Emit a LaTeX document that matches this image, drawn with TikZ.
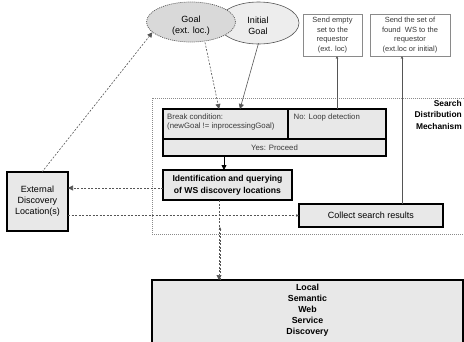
\documentclass[tikz,border=0pt]{standalone}
\usepackage{fontspec}
\setmainfont{Liberation Sans}
\usetikzlibrary{arrows.meta,shapes.geometric}
\definecolor{boxfill}{HTML}{E8E8E8}
\definecolor{goalfill}{HTML}{D9D9D9}
\definecolor{initfill}{HTML}{EDEDED}
\definecolor{linegray}{HTML}{555555}
\definecolor{framegray}{HTML}{8A8A8A}
\definecolor{txtgray}{HTML}{3A3A3A}
\begin{document}
\begin{tikzpicture}[x=1pt,y=-1pt,
  mainbox/.style={draw=black,line width=1.3pt,fill=boxfill,inner sep=0pt,outer sep=0pt},
  sendbox/.style={draw=framegray,line width=0.7pt,fill=white,inner sep=0pt,outer sep=0pt,
    align=center,text=txtgray,font=\fontsize{7.5}{9.7}\selectfont},
  smalltxt/.style={inner sep=0pt,text=txtgray,font=\fontsize{7.8}{9}\selectfont},
  boldtxt/.style={inner sep=0pt,align=center,font=\fontsize{8.6}{12}\selectfont\bfseries},
  regtxt/.style={inner sep=0pt,align=center,font=\fontsize{9}{11}\selectfont},
  dconn/.style={draw=linegray,line width=0.6pt,dash pattern=on 2pt off 1.5pt},
  sconn/.style={draw=linegray,line width=0.6pt},
  bigtip/.style={-{Triangle[length=5pt,width=5pt]}},
  smalltip/.style={-{Stealth[length=3pt,width=2.6pt]}}
]
\useasboundingbox (0,0) rectangle (464,341);

% frame of the search distribution mechanism
\draw[draw=framegray,line width=0.6pt,dash pattern=on 1pt off 1pt] (152,98) rectangle (467,234);
\node[boldtxt,align=right,anchor=north east,font=\fontsize{8.4}{11.5}\selectfont\bfseries] (sdm) at (462,100) {Search\\Distribution\\Mechanism};

% goals
\node[ellipse,draw=linegray,line width=0.6pt,fill=initfill,minimum width=81pt,minimum height=42pt,inner sep=0pt] (initial) at (258.5,23) {};
\node[regtxt] (initialtxt) at (258,26) {Initial\\Goal};
\node[ellipse,draw=linegray,line width=0.7pt,dash pattern=on 1pt off 1pt,fill=goalfill,minimum width=89pt,minimum height=40pt,inner sep=0pt] (goal) at (191,22) {};
\node[regtxt] (goaltxt) at (191,26) {Goal\\(ext. loc.)};

% send boxes
\node[sendbox,minimum width=59pt,minimum height=42pt] (send1) at (332.5,35) {Send empty\\set to the\\requestor\\(ext. loc)};
\node[sendbox,minimum width=80pt,minimum height=42pt] (send2) at (410,35) {Send the set of\\found\ \ WS to the\\requestor\\(ext.loc or initial)};

% break condition box
\node[mainbox,minimum width=223pt,minimum height=47pt] (brk) at (274.5,132.5) {};
\draw[black,line width=1.3pt] ([yshift=-30pt]brk.north west) -- ([yshift=-30pt]brk.north east);
\draw[black,line width=1.3pt] ([xshift=125pt]brk.north west) -- ([xshift=125pt,yshift=-30pt]brk.north west);
\node[smalltxt,anchor=north west,align=left,font=\fontsize{7.8}{9.5}\selectfont] (brktxt) at (167,113.5) {Break condition:\\(newGoal != inprocessingGoal)};
\node[smalltxt,anchor=north west] (loop) at (293.5,113.5) {No: Loop detection};
\node[smalltxt] (yes) at (274.5,147.5) {Yes: Proceed};

% identification box
\node[mainbox,boldtxt,minimum width=129pt,minimum height=30pt] (ident) at (227.5,185) {Identification and querying\\of WS discovery locations};

% collect box
\node[mainbox,regtxt,minimum width=144pt,minimum height=23pt] (collect) at (371,215.5) {Collect search results};

% external box
\node[mainbox,regtxt,minimum width=61pt,minimum height=59pt] (ext) at (37.5,201.5) {External\\Discovery\\Location(s)};

% local discovery box
\node[mainbox,minimum width=311pt,minimum height=72pt] (local) at (307.5,316) {};
\node[boldtxt,anchor=north,font=\fontsize{8.8}{11}\selectfont\bfseries] (localtxt) at (307.5,284) {Local\\Semantic\\Web\\Service\\Discovery};

% connectors
\draw[dconn,bigtip] ([xshift=14pt]goal.south) -- ([xshift=56pt]brk.north west);
\draw[sconn,bigtip] ([yshift=1pt]initial.south) -- ([xshift=77pt]brk.north west);
\draw[sconn,smalltip] ([xshift=174pt]brk.north west) -- ([xshift=174pt]brk.north west |- send1.south);
\draw[sconn,smalltip] ([xshift=103pt]collect.north west) -- ([xshift=103pt]collect.north west |- send2.south);
\draw[black,line width=0.8pt,bigtip] ([xshift=61pt]brk.south west) -- ([xshift=61pt]ident.north west);
\draw[dconn,bigtip] ([yshift=-3pt]ident.west) -- ([yshift=-3pt]ident.west -| ext.east);
\draw[dconn,smalltip] (collect.west -| ext.east) -- (collect.west);
\draw[dconn,bigtip] ([xshift=4.5pt]ext.north) -- (goal.195);
\draw[dconn,bigtip] ([xshift=56pt]ident.south west) -- ([xshift=56pt]ident.south west |- local.north);
\draw[dconn,smalltip] ([xshift=68pt]local.north west) -- ([xshift=68pt]local.north west |- collect.south);
\end{tikzpicture}
\end{document}
